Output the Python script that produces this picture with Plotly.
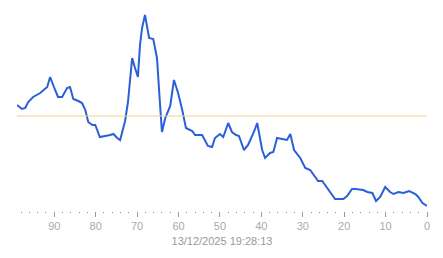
import plotly.graph_objects as go

x_vals = [99.0, 97.8, 97.0, 96.3, 95.1, 93.4, 91.7, 91.0, 89.8, 89.1, 88.1, 86.9, 86.2, 85.4,
          84.2, 83.3, 82.5, 81.8, 80.8, 80.1, 79.0, 77.4, 76.5, 75.7, 74.8, 74.1, 72.9, 72.2,
          71.2, 70.5, 69.8, 69.3, 68.8, 68.1, 67.1, 66.1, 65.2, 64.5, 64.0, 63.2, 62.0, 61.1,
          60.1, 59.1, 58.2, 56.7, 56.0, 54.3, 53.6, 52.9, 51.9, 51.2, 50.0, 49.2, 48.0, 47.1,
          46.1, 45.4, 44.2, 43.2, 41.7, 41.0, 39.8, 39.1, 37.9, 37.1, 36.2, 34.7, 33.8, 33.0,
          32.1, 30.6, 29.4, 28.2, 27.0, 26.3, 25.3, 24.1, 23.4, 22.2, 20.2, 19.3, 18.1, 17.3,
          15.4, 14.4, 13.2, 12.3, 11.3, 10.1, 8.9, 8.1, 6.9, 5.7, 4.3, 2.8, 2.1, 1.1, 0.0]
y_vals = [115, 111, 112, 118, 123, 127, 133, 143, 130, 123, 123, 132, 133, 121,
          119, 117, 110, 98, 95, 95, 83, 84, 85, 86, 82, 80, 99, 118,
          162, 152, 143, 175, 192, 205, 182, 181, 162, 118, 88, 102, 114, 140,
          127, 110, 92, 89, 85, 85, 80, 74, 73, 82, 86, 83, 97, 88,
          85, 84, 70, 75, 89, 97, 70, 62, 67, 68, 82, 81, 80, 86,
          70, 62, 52, 50, 43, 39, 39, 32, 28, 21, 21, 24, 31, 31,
          30, 28, 27, 19, 23, 33, 28, 26, 28, 27, 29, 26, 23, 17, 14]
ref_level = 104
title_text = "13/12/2025 19:28:13"
tick_vals = [90, 80, 70, 60, 50, 40, 30, 20, 10, 0]

fig = go.Figure()
fig.add_trace(go.Scatter(x=x_vals, y=y_vals, mode="lines",
                         line=dict(color="#2b5fd9", width=2), hoverinfo="skip"))
fig.add_hline(y=ref_level, line=dict(color="#f0d48a", width=1.2))

fig.update_layout(
    width=443, height=258,
    margin=dict(l=17, r=16, t=10, b=47),
    paper_bgcolor="white", plot_bgcolor="white",
    showlegend=False,
    font=dict(family="Liberation Sans, Arial, sans-serif", size=11, color="#aaaaaa"),
    xaxis=dict(
        range=[99, 0], showgrid=False, zeroline=False, showline=False,
        tickmode="array", tickvals=tick_vals,
        ticks="outside", ticklen=5, tickcolor="#999999", tickwidth=1,
        tickfont=dict(size=11, color="#aaaaaa"),
        minor=dict(dtick=2, tick0=0, ticks="outside", ticklen=1, tickcolor="#888888", tickwidth=1),
        title=dict(text=title_text, font=dict(size=11, color="#999999"), standoff=6),
    ),
    yaxis=dict(range=[9, 210], showgrid=False, zeroline=False, showline=False,
               showticklabels=False, ticks=""),
)

fig.write_html("out.html")
